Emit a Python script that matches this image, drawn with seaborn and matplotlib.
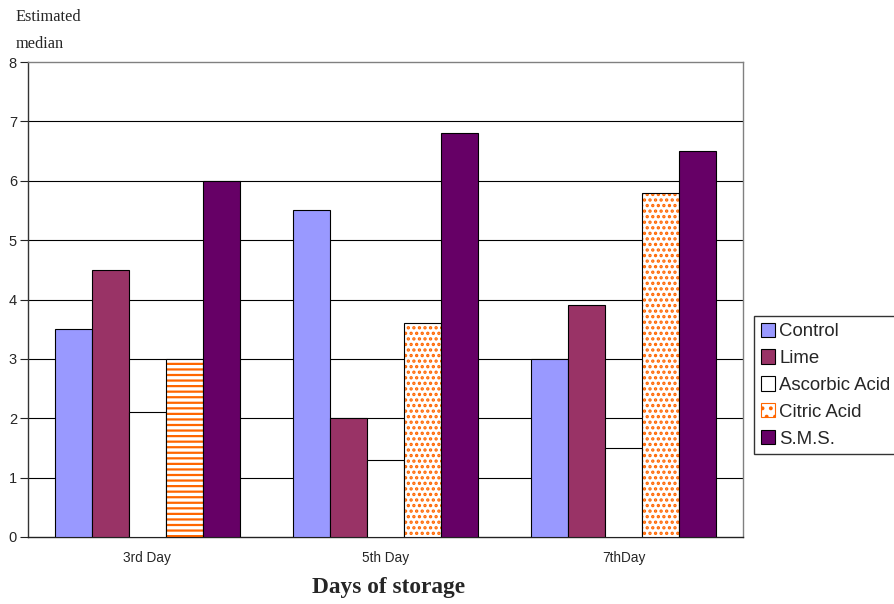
import matplotlib
matplotlib.use("Agg")
import matplotlib.pyplot as plt
from matplotlib.colors import to_rgba
from matplotlib.patches import Patch
import seaborn as sns
import pandas as pd

days = ["3rd Day", "5th Day", "7thDay"]
treatments = ["Control", "Lime", "Ascorbic Acid", "Citric Acid", "S.M.S."]
control = [3.5, 5.5, 3.0]
lime = [4.5, 2.0, 3.9]
ascorbic = [2.1, 1.3, 1.5]
citric = [3.0, 3.6, 5.8]
sms = [6.0, 6.8, 6.5]
yticks = [0, 1, 2, 3, 4, 5, 6, 7, 8]

fills = ["#9999FF", "#993366", "#FFFFFF", "#FFFFFF", "#660066"]
hatch_orange = "#FF6600"

rows = []
for name, vals in zip(treatments, [control, lime, ascorbic, citric, sms]):
    for d, v in zip(days, vals):
        rows.append({"day": d, "treatment": name, "value": v})
df = pd.DataFrame(rows)

sns.set_style("white")
plt.rcParams["font.family"] = ["Liberation Sans", "DejaVu Sans"]
plt.rcParams["hatch.linewidth"] = 1.6

fig = plt.figure(figsize=(8.95, 6.04), dpi=100)
ax = fig.add_axes([28 / 895, 67 / 604, (743 - 28) / 895, (537 - 62) / 604])

sns.barplot(data=df, x="day", y="value", hue="treatment", order=days,
            hue_order=treatments, palette=fills, width=0.775, gap=0,
            edgecolor="black", linewidth=0.8, saturation=1, legend=False,
            errorbar=None, ax=ax, zorder=3)

# Citric acid bars: orange stripes on the first day, orange dots afterwards
for i, container in enumerate(ax.containers):
    if treatments[i] == "Citric Acid":
        for j, bar in enumerate(container):
            bar.set_hatch("---" if j == 0 else "...")
            bar._hatch_color = to_rgba(hatch_orange)

ax.set_ylim(0, 8)
ax.set_xlim(-0.5, 2.5)
ax.set_yticks(yticks)
ax.set_yticklabels([str(t) for t in yticks], fontsize=10.5)
ax.set_xticks(range(len(days)))
ax.set_xticklabels(days, fontsize=9.8)
ax.set_xticks([0.5, 1.5, 2.5], minor=True)
ax.tick_params(axis="x", which="major", length=0, pad=10)
ax.tick_params(axis="x", which="minor", length=4, width=0.8, direction="out", color="#222222")
ax.tick_params(axis="y", length=6, width=0.8, direction="out", color="#222222", pad=2, left=True)
ax.set_xlabel("")
ax.set_ylabel("")

for y in yticks[1:-1]:
    ax.axhline(y, color="black", linewidth=0.8, zorder=1)

ax.spines["left"].set_color("#333333")
ax.spines["bottom"].set_color("#222222")
ax.spines["left"].set_linewidth(1.0)
ax.spines["bottom"].set_linewidth(1.0)
ax.spines["top"].set_color("#808080")
ax.spines["right"].set_color("#808080")
ax.spines["top"].set_linewidth(1.0)
ax.spines["right"].set_linewidth(1.0)

handles = []
for name, fc in zip(treatments, fills):
    if name == "Citric Acid":
        h = Patch(facecolor="white", edgecolor=hatch_orange, hatch="..", linewidth=0.8)
    else:
        h = Patch(facecolor=fc, edgecolor="black", linewidth=0.8)
    handles.append(h)
leg = fig.legend(handles, treatments, loc="upper left",
                 bbox_to_anchor=(754 / 895, 1 - 316 / 604),
                 bbox_transform=fig.transFigure, fontsize=13.4,
                 frameon=True, fancybox=False, shadow=False,
                 handlelength=0.8, handleheight=0.8, handletextpad=0.2,
                 labelspacing=0.5, borderpad=0.35, borderaxespad=0)
leg.get_frame().set_edgecolor("black")
leg.get_frame().set_linewidth(1.0)

fig.text(16 / 895, 1 - 17 / 604, "Estimated", fontsize=11.8,
         family=["Liberation Serif", "DejaVu Serif"], va="center", ha="left")
fig.text(16 / 895, 1 - 44 / 604, "median", fontsize=11.8,
         family=["Liberation Serif", "DejaVu Serif"], va="center", ha="left")
fig.text(389 / 895, 1 - 587 / 604, "Days of storage", fontsize=16.8,
         fontweight="bold", family=["Liberation Serif", "DejaVu Serif"],
         va="center", ha="center")

fig.savefig("out.png", dpi=100, facecolor="white")
